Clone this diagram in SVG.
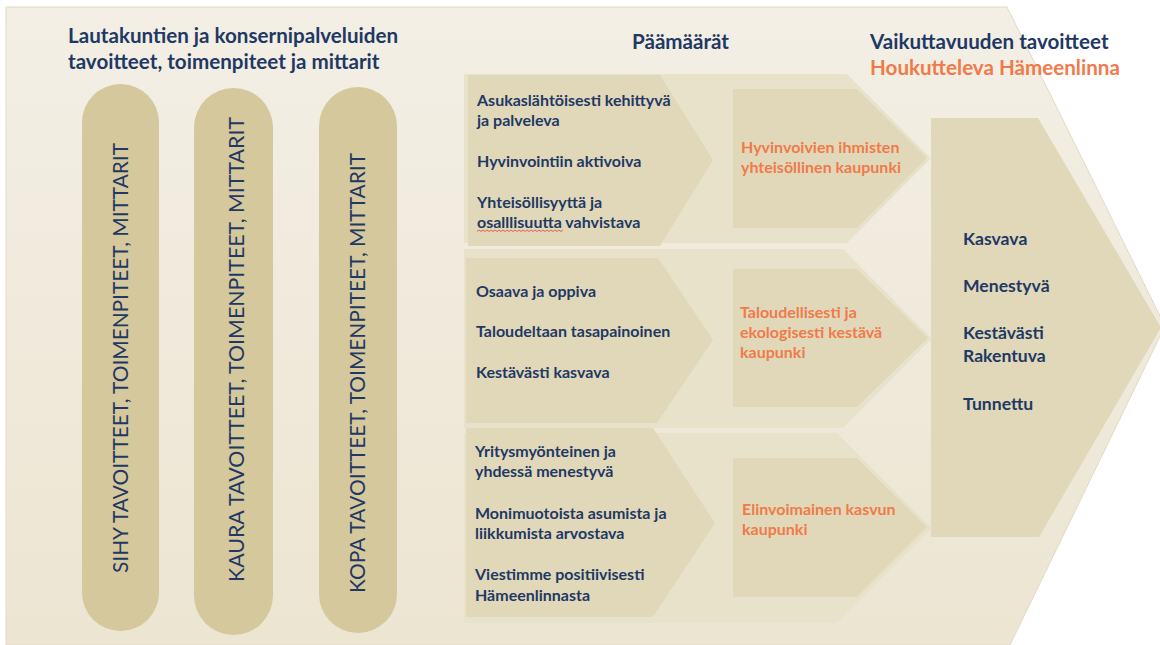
<svg xmlns="http://www.w3.org/2000/svg" width="1160" height="645" viewBox="0 0 1160 645">
  <defs>
    <linearGradient id="bgGrad" x1="0" y1="0" x2="0" y2="1">
      <stop offset="0" stop-color="#f3efe5"/>
      <stop offset="1" stop-color="#ece5d2"/>
    </linearGradient>
    <style>
      .pill { fill: #d5c89c; }
      .band { fill: #e9e2cb; }
      .chev { fill: #e0d8b9; }
      .pilltxt { font-family: Lato, "Liberation Sans", sans-serif; font-size: 22px; fill: #1f3864; }
      .hdr { font-family: Lato, "Liberation Sans", sans-serif; font-weight: bold; font-size: 20.6px; fill: #1f3864; }
      .hdrO { font-family: Lato, "Liberation Sans", sans-serif; font-weight: bold; font-size: 20.6px; fill: #f07a4a; }
      .t { font-family: Lato, "Liberation Sans", sans-serif; font-weight: bold; font-size: 16px; fill: #1f3864; }
      .o { font-family: Lato, "Liberation Sans", sans-serif; font-weight: bold; font-size: 16px; fill: #f07a4a; }
      .big { font-family: Lato, "Liberation Sans", sans-serif; font-weight: bold; font-size: 17.6px; fill: #1f3864; }
    </style>
  </defs>

  <rect x="0" y="0" width="1160" height="645" fill="#ffffff"/>
  <g id="background">
    <polygon points="6,7 1007,7 1165,326 1010,645 6,645" fill="url(#bgGrad)" stroke="#e2d9c4" stroke-width="1"/>
  </g>

  <g id="title">
    <text class="hdr" x="68" y="43">Lautakuntien ja konsernipalveluiden</text>
    <text class="hdr" x="68" y="69">tavoitteet, toimenpiteet ja mittarit</text>
  </g>

  <g id="pill-sihy">
    <rect class="pill" x="82" y="84" width="77" height="547" rx="38.5" ry="38.5"/>
    <text class="pilltxt" transform="translate(128,573) rotate(-90)" textLength="430" lengthAdjust="spacingAndGlyphs">SIHY TAVOITTEET, TOIMENPITEET, MITTARIT</text>
  </g>
  <g id="pill-kaura">
    <rect class="pill" x="194" y="88" width="79" height="547" rx="39.5" ry="39.5"/>
    <text class="pilltxt" transform="translate(244,582) rotate(-90)" textLength="465" lengthAdjust="spacingAndGlyphs">KAURA TAVOITTEET, TOIMENPITEET, MITTARIT</text>
  </g>
  <g id="pill-kopa">
    <rect class="pill" x="319" y="87" width="78" height="546" rx="39" ry="39"/>
    <text class="pilltxt" transform="translate(365,593) rotate(-90)" textLength="440" lengthAdjust="spacingAndGlyphs">KOPA TAVOITTEET, TOIMENPITEET, MITTARIT</text>
  </g>

  <g id="headers">
    <text class="hdr" x="632" y="49">Päämäärät</text>
    <text class="hdr" x="870" y="49">Vaikuttavuuden tavoitteet</text>
    <text class="hdrO" x="870" y="75">Houkutteleva Hämeenlinna</text>
  </g>

  <g id="row1">
    <polygon class="band" points="464,74 847,74 931,158.5 847,243 464,243"/>
    <polygon class="chev" points="468,75 660,75 713,160 660,246 468,246"/>
    <text class="t" x="477" y="106">Asukaslähtöisesti kehittyvä</text>
    <text class="t" x="477" y="126">ja palveleva</text>
    <text class="t" x="477" y="167">Hyvinvointiin aktivoiva</text>
    <text class="t" x="477" y="208">Yhteisöllisyyttä ja</text>
    <text class="t" x="477" y="228">osalllisuutta vahvistava</text>
    <path d="M477,231.5 l2,-1.5 l2,1.5 l2,-1.5 l2,1.5 l2,-1.5 l2,1.5 l2,-1.5 l2,1.5 l2,-1.5 l2,1.5 l2,-1.5 l2,1.5 l2,-1.5 l2,1.5 l2,-1.5 l2,1.5 l2,-1.5 l2,1.5 l2,-1.5 l2,1.5 l2,-1.5 l2,1.5 l2,-1.5 l2,1.5 l2,-1.5 l2,1.5 l2,-1.5 l2,1.5 l2,-1.5 l2,1.5 l2,-1.5 l2,1.5 l2,-1.5 l2,1.5 l2,-1.5 l2,1.5 l2,-1.5 l2,1.5 l2,-1.5 l2,1.5 l2,-1.5 l2,1.5 l2,-1.5" fill="none" stroke="#e0443c" stroke-width="0.8"/>
  </g>
  <g id="goal1">
    <polygon class="chev" points="733,89 857,89 927,158 857,228 733,228"/>
    <text class="o" x="741" y="153">Hyvinvoivien ihmisten</text>
    <text class="o" x="741" y="173">yhteisöllinen kaupunki</text>
  </g>

  <g id="row2">
    <polygon class="band" points="464,249 843,249 932,338.5 843,428 464,428"/>
    <polygon class="chev" points="466,258 658,258 713,340 657,423 466,423"/>
    <text class="t" x="476" y="297">Osaava ja oppiva</text>
    <text class="t" x="476" y="337">Taloudeltaan tasapainoinen</text>
    <text class="t" x="476" y="378">Kestävästi kasvava</text>
  </g>
  <g id="goal2">
    <polygon class="chev" points="733,269 857,269 928,338 857,407 733,407"/>
    <text class="o" x="740" y="318">Taloudellisesti ja</text>
    <text class="o" x="740" y="338">ekologisesti kestävä</text>
    <text class="o" x="740" y="358">kaupunki</text>
  </g>

  <g id="row3">
    <polygon class="band" points="464,433 837,433 932,528 837,623 464,623"/>
    <polygon class="chev" points="466,428 653,428 715,523 653,617 466,617"/>
    <text class="t" x="475" y="457">Yritysmyönteinen ja</text>
    <text class="t" x="475" y="477">yhdessä menestyvä</text>
    <text class="t" x="475" y="519">Monimuotoista asumista ja</text>
    <text class="t" x="475" y="539">liikkumista arvostava</text>
    <text class="t" x="475" y="580">Viestimme positiivisesti</text>
    <text class="t" x="475" y="601">Hämeenlinnasta</text>
  </g>
  <g id="goal3">
    <polygon class="chev" points="733,458 857,458 927,527 857,597 733,597"/>
    <text class="o" x="742" y="515">Elinvoimainen kasvun</text>
    <text class="o" x="742" y="535">kaupunki</text>
  </g>

  <g id="impact">
    <polygon class="chev" points="931,118 1038,118 1161,327.5 1039,537 931,537"/>
    <text class="big" x="963" y="245">Kasvava</text>
    <text class="big" x="963" y="292">Menestyvä</text>
    <text class="big" x="963" y="339">Kestävästi</text>
    <text class="big" x="963" y="362">Rakentuva</text>
    <text class="big" x="963" y="410">Tunnettu</text>
  </g>

  <g id="connectors"/>
</svg>
